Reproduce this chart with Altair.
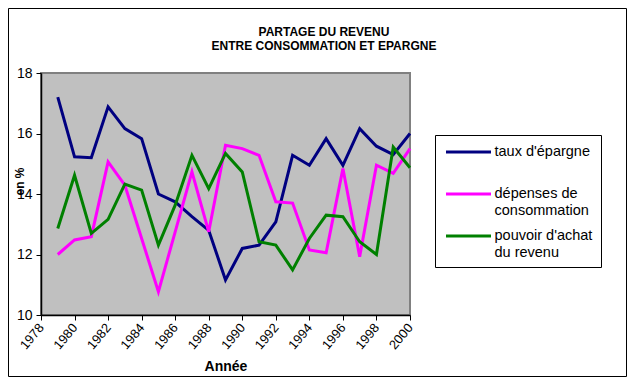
import json
import altair as alt
import pandas as pd

# ---- data ----
years = list(range(1979, 2001))
taux_epargne = [17.2, 15.23, 15.2, 16.88, 16.16, 15.83, 14.0, 13.74, 13.25, 12.8, 11.16,
                12.2, 12.31, 13.08, 15.28, 14.95, 15.83, 14.95, 16.16, 15.58, 15.3, 16.0]
depenses_conso = [12.0, 12.48, 12.59, 15.06, 14.29, 12.53, 10.77, 12.75, 14.73, 12.75, 15.61,
                  15.5, 15.28, 13.74, 13.7, 12.15, 12.06, 14.84, 11.93, 14.95, 14.68, 15.5]
pouvoir_achat = [12.86, 14.62, 12.7, 13.16, 14.33, 14.13, 12.31, 13.63, 15.28, 14.18, 15.34,
                 14.73, 12.42, 12.31, 11.49, 12.53, 13.3, 13.25, 12.42, 12.0, 15.55, 14.87]

series = ["taux d'épargne", "dépenses de consommation", "pouvoir d'achat du revenu"]
legend_lines = [["taux d'épargne"], ["dépenses de", "consommation"], ["pouvoir d'achat", "du revenu"]]
colors = ["#000080", "#FF00FF", "#008000"]
x_ticks = list(range(1978, 2001, 2))
y_ticks = [10, 12, 14, 16, 18]
title_lines = ["PARTAGE DU REVENU", "ENTRE CONSOMMATION ET EPARGNE"]

rows = []
for name, vals in zip(series, [taux_epargne, depenses_conso, pouvoir_achat]):
    for yr, v in zip(years, vals):
        rows.append({"annee": yr, "valeur": v, "serie": name})
df = pd.DataFrame(rows)

# label expression giving multi-line legend labels
expr = json.dumps(legend_lines[-1], ensure_ascii=False)
for name, ln in reversed(list(zip(series[:-1], legend_lines[:-1]))):
    val = json.dumps(ln[0], ensure_ascii=False) if len(ln) == 1 else json.dumps(ln, ensure_ascii=False)
    expr = f"datum.label == {json.dumps(name, ensure_ascii=False)} ? {val} : ({expr})"

FONT = "Liberation Sans"

lines = alt.Chart(df).mark_line(strokeWidth=3).encode(
    x=alt.X("annee:Q",
            scale=alt.Scale(domain=[1978, 2000], nice=False, zero=False),
            axis=alt.Axis(values=x_ticks, format="d", labelAngle=-50, labelAlign="right",
                          labelBaseline="middle", labelPadding=5, tickSize=5,
                          labelFontSize=13, title="Année", titleFontSize=14,
                          titleFontWeight="bold", titleY=55, titleBaseline="alphabetic")),
    y=alt.Y("valeur:Q",
            scale=alt.Scale(domain=[10, 18], nice=False, zero=False),
            axis=alt.Axis(values=y_ticks, tickSize=5, labelPadding=4, labelFontSize=14,
                          title="en %", titleFontSize=12, titleFontWeight="bold",
                          titleX=-22, titleY=108, titleAngle=270, titleAlign="center",
                          titleBaseline="middle")),
    color=alt.Color("serie:N", title=None,
                    scale=alt.Scale(domain=series, range=colors),
                    legend=alt.Legend(orient="none", legendX=394, legendY=62,
                                      strokeColor="black", fillColor="white", padding=8,
                                      cornerRadius=0, symbolType="M-3,0H3", symbolSize=225,
                                      symbolStrokeWidth=3, symbolOffset=16.5,
                                      labelFont=FONT, labelFontSize=14.5,
                                      labelLimit=300, labelOffset=17, rowPadding=10,
                                      gridAlign="all", labelExpr=expr)),
)

border = alt.Chart(alt.Data(values=[{"k": 1}])).mark_rect(
    fillOpacity=0, stroke="black", strokeWidth=1
).encode(
    x=alt.value(-32.5), x2=alt.value(585.5), y=alt.value(-64.5), y2=alt.value(303.5)
)

chart = alt.layer(border, lines).properties(
    width=369,
    height=242,
    autosize=alt.AutoSizeParams(type="none"),
    padding={"left": 33, "top": 65, "right": 217, "bottom": 62},
    background="white",
    title=alt.Title(title_lines, fontSize=12, fontWeight="bold", font=FONT, anchor="middle",
                    dx=98.5, offset=-45, lineHeight=14, color="black"),
).configure_view(
    fill="#C0C0C0", stroke="#808080", strokeWidth=2
).configure_axis(
    grid=False, labelFont=FONT, titleFont=FONT, labelColor="black", titleColor="black",
    domainColor="black", tickColor="black", domainWidth=1.5
)

chart.save("out.html", embed_options={"renderer": "svg", "actions": False})
